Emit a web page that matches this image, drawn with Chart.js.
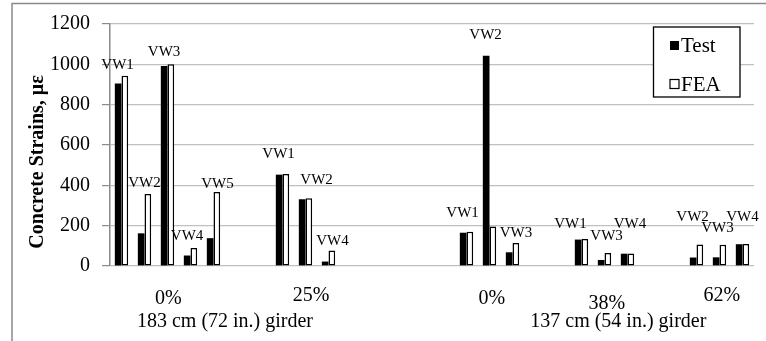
<!DOCTYPE html>
<html><head><meta charset="utf-8">
<script src="https://cdn.jsdelivr.net/npm/chart.js@4/dist/chart.umd.min.js"></script>
<style>html,body{margin:0;padding:0;background:#fff;}#wrap{width:766px;height:341px;}</style>
</head><body><div id="wrap"><canvas id="c" width="766" height="341"></canvas></div>
<script>
// ---- data ----
const gauges = ['VW1','VW2','VW3','VW4','VW5','','','VW1','VW2','VW4','','','','','','VW1','VW2','VW3','','','VW1','VW3','VW4','','','VW2','VW3','VW4'];
const testStrain = [905,162,992,52,138,null,null,453,331,22,null,null,null,null,null,165,1042,68,null,null,131,30,61,null,null,42,43,108];
const feaStrain  = [943,357,1000,89,367,null,null,456,336,77,null,null,null,null,null,170,196,114,null,null,134,65,62,null,null,107,105,109];
const yTicks = [0,200,400,600,800,1000,1200];
const loadLevels = ['0%','25%','0%','38%','62%'];
const girders = ['183 cm (72 in.) girder','137 cm (54 in.) girder'];
const yTitle = 'Concrete Strains, με';

// ---- label layout (category units / axis units) ----
const gaugeLabelShift = [-0.17,0,-0.15,-0.15,0.17,0,0,-0.17,0.48,0.17,0,0,0,0,0,-0.17,-0.17,0.15,0,0,-0.48,0.09,0.11,0,0,-0.17,-0.09,0];
const gaugeLabelLevel = [998,410,1063,147,407,0,0,553,424,123,0,0,0,0,0,261,1143,164,0,0,206,147,208,0,0,244,189,244];
const loadLevelAt = [[2.04,303.5],[8.24,300.5],[16.1,303.5],[21.1,308.5],[26.1,300.5]];
const girderAt = [[4.5,326.5],[21.6,326.5]];

const SERIF = "'Liberation Serif','Times New Roman',serif";

function catPx(xs, v){
  const p0 = xs.getPixelForValue(0), p1 = xs.getPixelForValue(1);
  return p0 + v*(p1-p0);
}

const decor = {
  id:'decor',
  beforeDraw(chart){
    const ctx = chart.ctx;
    ctx.save();
    ctx.strokeStyle = '#8a8a8a';
    ctx.lineWidth = 1.5;
    ctx.beginPath();
    ctx.moveTo(12, 341); ctx.lineTo(12, 3.5); ctx.lineTo(766, 3.5);
    ctx.stroke();
    ctx.restore();
  },
  afterDatasetsDraw(chart){
    const ctx = chart.ctx, xs = chart.scales.x, ys = chart.scales.y;
    ctx.save();
    ctx.fillStyle = '#000';
    ctx.font = '15px ' + SERIF;
    ctx.textAlign = 'center'; ctx.textBaseline = 'middle';
    gauges.forEach((g,i)=>{
      if(!g) return;
      ctx.fillText(g, catPx(xs, i + gaugeLabelShift[i]), ys.getPixelForValue(gaugeLabelLevel[i]));
    });
    ctx.font = '20px ' + SERIF;
    ctx.textBaseline = 'alphabetic';
    loadLevels.forEach((t,i)=> ctx.fillText(t, catPx(xs, loadLevelAt[i][0]), loadLevelAt[i][1]));
    girders.forEach((t,i)=> ctx.fillText(t, catPx(xs, girderAt[i][0]), girderAt[i][1]));
    ctx.save();
    ctx.font = 'bold 20px ' + SERIF;
    ctx.translate(42.5, 162);
    ctx.rotate(-Math.PI/2);
    ctx.textAlign = 'center';
    ctx.fillText(yTitle, 0, 0);
    ctx.restore();
    const bx = 653.5, by = 27, bw = 86.5, bh = 70;
    ctx.fillStyle = '#fff';
    ctx.fillRect(bx, by, bw, bh);
    ctx.strokeStyle = '#000'; ctx.lineWidth = 1.3;
    ctx.strokeRect(bx, by, bw, bh);
    ctx.font = '21px ' + SERIF;
    ctx.textAlign = 'left'; ctx.textBaseline = 'alphabetic';
    chart.data.datasets.forEach((ds,k)=>{
      const cy = k === 0 ? 45.5 : 84;
      ctx.fillStyle = ds.backgroundColor;
      ctx.fillRect(670, cy-4.5, 9, 9);
      if(ds.borderWidth){ ctx.strokeStyle = ds.borderColor; ctx.lineWidth = 1.2; ctx.strokeRect(670, cy-4.5, 9, 9); }
      ctx.fillStyle = '#000';
      ctx.fillText(ds.label, 681, cy + 6.5);
    });
    ctx.restore();
  }
};

new Chart(document.getElementById('c'), {
  type:'bar',
  data:{
    labels: gauges,
    datasets:[
      {label:'Test', data:testStrain, backgroundColor:'#000', borderWidth:0},
      {label:'FEA', data:feaStrain, backgroundColor:'#fff', borderColor:'#000', borderWidth:1.5, borderSkipped:false}
    ]
  },
  options:{
    responsive:false, animation:false, devicePixelRatio:1,
    layout:{padding:{left:0,top:19,right:12,bottom:75}},
    datasets:{bar:{barPercentage:1, categoryPercentage:0.58}},
    plugins:{legend:{display:false}, tooltip:{enabled:false}},
    scales:{
      x:{display:false},
      y:{
        min:0, max:1200,
        afterBuildTicks(s){ s.ticks = yTicks.map(v=>({value:v})); },
        afterFit(s){ s.width = 110; },
        grid:{color:'#c0c0c0', lineWidth:1.2, tickLength:8, tickColor:'#8a8a8a'},
        border:{color:'#8a8a8a', width:1.5},
        ticks:{color:'#000', padding:12, font:{family:SERIF, size:20}, callback:(v)=>String(v)}
      }
    }
  },
  plugins:[decor]
});
</script></body></html>
